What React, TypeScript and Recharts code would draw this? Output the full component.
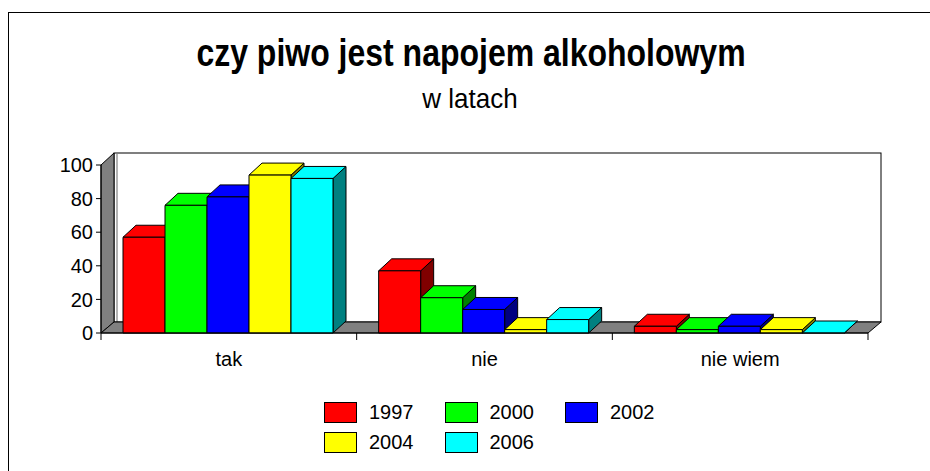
import { BarChart, Bar, XAxis, YAxis } from "recharts";

const categories = ["tak", "nie", "nie wiem"];
const years = ["1997", "2000", "2002", "2004", "2006"];
const s1997 = [57, 37, 4];
const s2000 = [76, 21, 2];
const s2002 = [81, 14, 4];
const s2004 = [94, 2, 2];
const s2006 = [92, 8, 0];
const yTicks = [0, 20, 40, 60, 80, 100];

const seriesValues = [s1997, s2000, s2002, s2004, s2006];
const FRONT = ["#ff0000", "#00ff00", "#0000ff", "#ffff00", "#00ffff"];
const SIDE = ["#800000", "#008000", "#000080", "#808000", "#008080"];

const data = categories.map((name, i) => {
  const row: Record<string, string | number> = { name };
  years.forEach((y, j) => {
    row[y] = seriesValues[j][i];
  });
  return row;
});

const W = 930;
const H = 471;
const FONT = '"Liberation Sans", Arial, sans-serif';

// plot geometry (page coords)
const LEFT = 101;
const RIGHT = 868;
const TOP = 165;
const BOTTOM = 333;
const DX = 13;
const DY = 11;

function Bar3D(props: any) {
  const { x, y, width, height, fill, side } = props;
  if (x == null || y == null) return null;
  const r = x + width;
  const b = y + height;
  const d = 12;
  return (
    <g stroke="#000" strokeWidth={1} strokeLinejoin="round">
      <polygon points={`${r},${b} ${r},${y} ${r + DX},${y - d} ${r + DX},${b - d}`} fill={side} />
      <polygon points={`${x},${y} ${x + DX},${y - d} ${r + DX},${y - d} ${r},${y}`} fill={fill} />
      <rect x={x} y={y} width={width} height={Math.max(height, 0)} fill={fill} />
    </g>
  );
}

function Backdrop() {
  const band = (RIGHT - LEFT) / categories.length;
  return (
    <svg width={W} height={H} style={{ position: "absolute", left: 0, top: 0 }} fontFamily={FONT}>
      <g transform="translate(471,66) scale(1,1.2)">
        <text x={0} y={0} textAnchor="middle" fontSize={32} fontWeight="bold" fill="#000">
          czy piwo jest napojem alkoholowym
        </text>
      </g>
      <g transform="translate(470,108) scale(1,1.05)">
        <text x={0} y={0} textAnchor="middle" fontSize={26} fill="#000">
          w latach
        </text>
      </g>
      <rect x={LEFT + DX} y={TOP - 12} width={RIGHT - LEFT} height={BOTTOM - DY - TOP + 12} fill="#fff" stroke="#000" />
      <line x1={LEFT + DX + 3} y1={TOP - 11} x2={LEFT + DX + 3} y2={BOTTOM - DY} stroke="#000" strokeWidth={0.6} />
      <polygon
        points={`${LEFT},${TOP} ${LEFT + DX},${TOP - 12} ${LEFT + DX},${BOTTOM - DY} ${LEFT},${BOTTOM}`}
        fill="#808080"
        stroke="#000"
      />
      <polygon
        points={`${LEFT},${BOTTOM} ${LEFT + DX},${BOTTOM - DY} ${RIGHT + DX},${BOTTOM - DY} ${RIGHT},${BOTTOM}`}
        fill="#808080"
        stroke="#000"
      />
      {categories.concat([""]).map((_, i) => (
        <line key={i} x1={LEFT + i * band} y1={BOTTOM} x2={LEFT + i * band} y2={BOTTOM + 7} stroke="#000" />
      ))}
    </svg>
  );
}

export default function App() {
  return (
    <div style={{ position: "absolute", left: 0, top: 0, width: W, height: H, overflow: "hidden", background: "#fff", fontFamily: FONT }}>
      <div style={{ position: "absolute", left: 8, top: 12, width: 960, height: 500, border: "1px solid #000" }} />
      <Backdrop />
      <div style={{ position: "absolute", left: 0, top: 0 }}>
        <BarChart
          width={W}
          height={H}
          data={data}
          margin={{ top: TOP, right: W - RIGHT, left: LEFT - 60, bottom: H - BOTTOM - 40 }}
          barCategoryGap={22}
          barGap={0}
        >
          <XAxis
            dataKey="name"
            height={40}
            tickLine={false}
            axisLine={{ stroke: "#000" }}
            tickSize={6}
            tickMargin={13}
            tick={{ fontSize: 20, fill: "#000", fontFamily: FONT }}
          />
          <YAxis
            width={60}
            domain={[0, 100]}
            ticks={yTicks}
            interval={0}
            axisLine={{ stroke: "#000" }}
            tickLine={{ stroke: "#000" }}
            tickSize={5}
            tickMargin={3}
            tick={{ fontSize: 20, fill: "#000", fontFamily: FONT }}
          />
          {years.map((y, j) => (
            <Bar
              key={y}
              dataKey={y}
              fill={FRONT[j]}
              isAnimationActive={false}
              shape={(p: any) => <Bar3D {...p} side={SIDE[j]} />}
            />
          ))}
        </BarChart>
      </div>
      <div style={{ position: "absolute", left: 324, top: 402, width: 370, display: "flex", flexWrap: "wrap", rowGap: 9 }}>
        {years.map((y, j) => (
          <div key={y} style={{ width: 120.5, height: 21, display: "flex", alignItems: "center" }}>
            <div style={{ width: 31, height: 19, background: FRONT[j], border: "1px solid #000", marginRight: 12 }} />
            <span style={{ fontSize: 20, color: "#000" }}>{y}</span>
          </div>
        ))}
      </div>
    </div>
  );
}
